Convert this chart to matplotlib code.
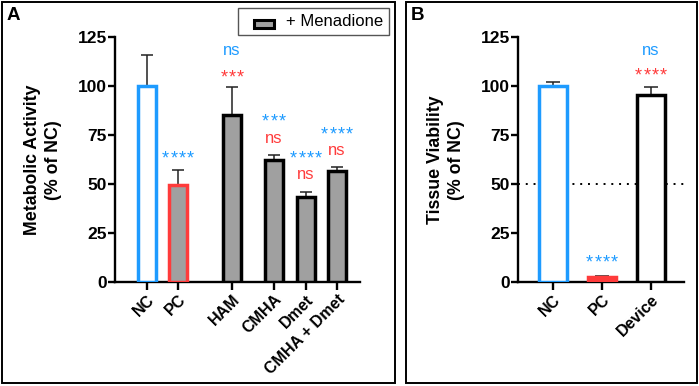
import matplotlib
matplotlib.use("Agg")
import matplotlib.pyplot as plt
from matplotlib.patches import Rectangle

plt.rcParams['font.family'] = ['Liberation Sans', 'DejaVu Sans']

# ---------------- Data ----------------
cats_a = ["NC", "PC", "HAM", "CMHA", "Dmet", "CMHA + Dmet"]
vals_a = [100, 49.5, 85, 62, 43.5, 56.5]
err_a = [16, 7.5, 14.5, 3, 2.5, 2]

cats_b = ["NC", "PC", "Device"]
vals_b = [100, 2.5, 95.5]
err_b = [2, 0.6, 4]

# significance labels
sig_a_blue = ["", "****", "ns", "***", "****", "****"]   # vs NC
sig_a_red = ["", "", "***", "ns", "ns", "ns"]            # vs PC
sig_b_blue = ["", "****", "ns"]
sig_b_red = ["", "", "****"]
legend_label = "+ Menadione"

BLUE = "#1E9BFF"
RED = "#FF3B3B"
GRAY = "#A0A0A0"

W, H = 699, 386
fig = plt.figure(figsize=(W / 100, H / 100), dpi=100)


def px_axes(l, r, top, bot):
    return fig.add_axes([l / W, 1 - bot / H, (r - l) / W, (bot - top) / H])


def style(ax):
    for s in ["top", "right"]:
        ax.spines[s].set_visible(False)
    for s in ["left", "bottom"]:
        ax.spines[s].set_linewidth(1.7)
    ax.set_ylim(0, 125)
    ax.set_yticks([0, 25, 50, 75, 100, 125])
    ax.tick_params(axis="y", length=5, width=1.7, labelsize=12.5, pad=1)
    ax.tick_params(axis="x", length=6, width=1.7, labelsize=11.5, pad=1)
    for lab in ax.get_yticklabels():
        lab.set_fontweight("bold")


def sig(ax, x, y, text, color):
    if not text:
        return
    if set(text) == {"*"}:
        n = len(text)
        pitch = 6.0  # points
        for k in range(n):
            off = (k - (n - 1) / 2) * pitch
            ax.annotate("*", (x, y), xytext=(off, -4.5), textcoords="offset points",
                        ha="center", va="center", color=color, fontsize=13,
                        annotation_clip=False)
    else:
        ax.text(x, y, text, color=color, ha="center", va="center", fontsize=12,
                clip_on=False)


# ---------------- Panel A ----------------
axA = px_axes(115, 360, 37, 282)
xa = [0, 0.98, 2.70, 4.03, 5.05, 6.03]
edge_a = [BLUE, RED, "black", "black", "black", "black"]
face_a = ["white", GRAY, GRAY, GRAY, GRAY, GRAY]
axA.bar(xa, vals_a, width=0.55, color=face_a, edgecolor=edge_a, linewidth=2.5, zorder=3)
axA.errorbar(xa, vals_a, yerr=[[0] * len(err_a), err_a], fmt="none", ecolor="#222222",
             elinewidth=1.1, capsize=4, capthick=1.1, zorder=2)
axA.set_xlim(-1.02, 6.76)
axA.set_xticks(xa)
axA.set_xticklabels(cats_a, rotation=45, ha="right", rotation_mode="anchor", fontweight="bold")
style(axA)

y_blue_a = [0, 66, 118, 85, 66, 78]
y_red_a = [0, 0, 107.5, 73, 55, 67]
for i in range(len(cats_a)):
    sig(axA, xa[i], y_blue_a[i], sig_a_blue[i], BLUE)
    sig(axA, xa[i], y_red_a[i], sig_a_red[i], RED)

# legend box
fig.add_artist(Rectangle((238 / W, 1 - 35 / H), 151 / W, 27 / H, transform=fig.transFigure,
                         facecolor="white", edgecolor="#555555", linewidth=1.0))
fig.add_artist(Rectangle((254 / W, 1 - 27.5 / H), 20 / W, 8 / H, transform=fig.transFigure,
                         facecolor=GRAY, edgecolor="black", linewidth=2.2))
fig.text(286 / W, 1 - 21.5 / H, legend_label, fontsize=12, ha="left", va="center")

fig.text(43 / W, 1 - 160 / H, "Metabolic Activity\n(% of NC)", rotation=90, ha="center",
         va="center", fontsize=12.8, fontweight="bold", multialignment="center", linespacing=1.3)

# ---------------- Panel B ----------------
axB = px_axes(518, 684, 37, 282)
xb = [0, 1, 2]
edge_b = [BLUE, RED, "black"]
face_b = ["white", RED, "white"]
axB.axhline(50, color="black", linestyle=(0, (1, 3)), linewidth=1.4, zorder=1)
axB.bar(xb, vals_b, width=0.57, color=face_b, edgecolor=edge_b, linewidth=2.5, zorder=3)
axB.errorbar(xb, vals_b, yerr=[[0] * len(err_b), err_b], fmt="none", ecolor="#222222",
             elinewidth=1.1, capsize=5, capthick=1.1, zorder=2)
axB.set_xlim(-0.714, 2.67)
axB.set_xticks(xb)
axB.set_xticklabels(cats_b, rotation=45, ha="right", rotation_mode="anchor", fontweight="bold")
style(axB)

y_blue_b = [0, 12.7, 118]
y_red_b = [0, 0, 108.5]
for i in range(len(cats_b)):
    sig(axB, xb[i], y_blue_b[i], sig_b_blue[i], BLUE)
    sig(axB, xb[i], y_red_b[i], sig_b_red[i], RED)

fig.text(446 / W, 1 - 160 / H, "Tissue Viability\n(% of NC)", rotation=90, ha="center",
         va="center", fontsize=12.8, fontweight="bold", multialignment="center", linespacing=1.3)

# ---------------- Panel frames and letters ----------------
for (l, r) in [(2, 395), (406, 697)]:
    fig.add_artist(Rectangle((l / W, 1 - 383 / H), (r - l) / W, 381 / H,
                             transform=fig.transFigure, fill=False, edgecolor="black",
                             linewidth=1.4))
fig.text(7 / W, 1 - 15.5 / H, "A", fontsize=13.5, fontweight="bold", va="center", ha="left")
fig.text(411 / W, 1 - 15.5 / H, "B", fontsize=13.5, fontweight="bold", va="center", ha="left")

fig.savefig("out.png", dpi=100)
